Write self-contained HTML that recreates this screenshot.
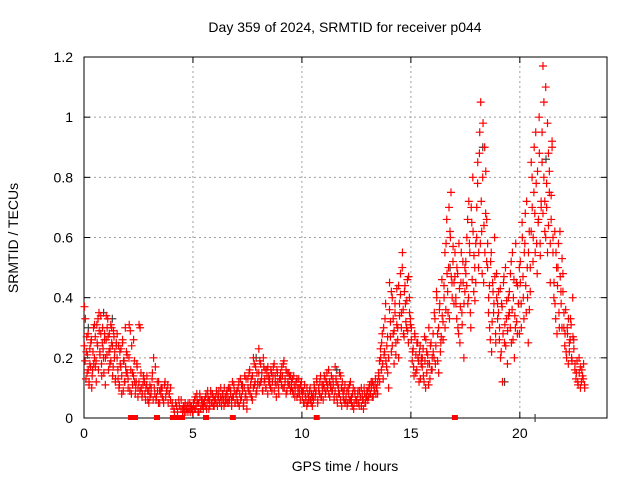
<!DOCTYPE html>
<html><head><meta charset="utf-8"><style>
html,body{margin:0;padding:0;background:#fff;}
svg text{font-family:"Liberation Sans",sans-serif;font-size:14px;fill:#000;}
</style></head><body>
<svg id="chart" width="640" height="480" xmlns="http://www.w3.org/2000/svg">
<text x="345" y="32" text-anchor="middle">Day 359 of 2024, SRMTID for receiver p044</text>
<text transform="translate(18,238) rotate(-90)" text-anchor="middle">SRMTID / TECUs</text>
<text x="345" y="471" text-anchor="middle">GPS time / hours</text>
<g id="grid"></g>
<g id="axes"></g>
<g id="marks"></g>
</svg>
<script>
const xTicks=[0,5,10,15,20];
const yTicks=[0,0.2,0.4,0.6,0.8,1,1.2];
const yTickLabels=["0","0.2","0.4","0.6","0.8","1","1.2"];
const segmentStarts=[0,0.5,1,1.5,2,2.5,3,3.5,4,4.5,5,5.5,6,6.5,7,7.5,8,8.5,9,9.5,10,10.5,11,11.5,12,12.5,13,13.5,14,14.5,15,15.5,16,16.5,17,17.5,18,18.5,19,19.5,20,20.5,21,21.5,22,22.5];
const segmentValues=[
[.37,.33,.22,.15,.28,.12,.18,.25,.10,.16,.30,.20],
[.17,.12,.25,.33,.35,.22,.28,.14,.30,.20,.26,.11],
[.34,.30,.27,.22,.18,.31,.25,.14,.29,.20,.12,.24],
[.28,.13,.10,.22,.17,.08,.25,.19,.12,.30,.15,.21],
[.10,.31,.29,.08,.15,.26,.12,.10,.18,.07],
[.31,.30,.10,.08,.14,.12,.06,.11,.09,.05],
[.07,.10,.15,.20,.08,.06,.12,.05,.09],
[.10,.07,.05,.12,.09,.11,.08,.06],
[.05,.02,.04,.06,.03],
[.02,.03,.04,.02,.03,.05,.03,.02,.04,.03],
[.04,.06,.03,.08,.05,.02,.07,.04,.06,.03],
[.05,.07,.03,.09,.06,.04,.08,.05,.07,.04],
[.06,.09,.04,.07,.05,.10,.06,.08,.04,.07],
[.08,.05,.10,.06,.09,.04,.07,.11,.05,.08],
[.06,.10,.04,.13,.07,.11,.05,.14,.08,.03],
[.10,.15,.08,.13,.06,.20,.11,.17,.09,.12],
[.23,.19,.12,.15,.09,.17,.13,.10,.16,.08,.14],
[.11,.16,.09,.14,.18,.12,.07,.15,.10,.13],
[.13,.17,.10,.19,.12,.08,.15,.11,.14,.09],
[.12,.09,.14,.07,.11,.13,.08,.10,.06,.12],
[.09,.05,.11,.07,.04,.08,.06,.10,.05,.07],
[.06,.10,.08,.13,.05,.09,.12,.07,.11,.06],
[.14,.08,.12,.10,.16,.07,.11,.09,.13,.06],
[.17,.12,.05,.10,.08,.14,.04,.09,.06,.11],
[.07,.04,.10,.06,.12,.05,.08,.03,.09,.06],
[.05,.09,.04,.07,.10,.06,.03,.08,.05,.07],
[.06,.10,.08,.12,.07,.11,.09,.13,.10,.08],
[.15,.12,.20,.25,.18,.30,.22,.38,.17,.27,.10],
[.45,.32,.22,.40,.28,.18,.35,.25,.43,.30,.20,.38],
[.48,.35,.55,.28,.42,.38,.30,.46,.25,.40,.33],
[.30,.22,.17,.28,.15,.25,.20,.12,.24,.18],
[.20,.14,.27,.10,.22,.18,.30,.13,.25,.16],
[.22,.35,.18,.42,.28,.15,.38,.25,.46,.32],
[.40,.30,.58,.48,.35,.70,.62,.75,.45,.52,.38],
[.55,.38,.50,.30,.58,.25,.45,.35,.52,.20,.42],
[.48,.60,.38,.72,.55,.30,.65,.80,.42,.50,.58],
[.70,.85,.55,.95,1.05,.62,.80,.45,.90,.68,.52],
[.58,.40,.30,.52,.22,.45,.35,.60,.28,.48,.38],
[.42,.30,.20,.38,.12,.45,.25,.50,.33,.18,.40],
[.35,.48,.25,.55,.40,.20,.30,.45,.28,.38,.50],
[.45,.30,.60,.40,.55,.68,.35,.50,.25,.62,.42],
[.85,.70,.60,.90,.55,.78,.48,.65,1.00,.58,.72],
[.95,1.17,.80,.62,1.10,.70,.55,.88,.75,.45,.66,.92],
[.60,.45,.38,.55,.28,.50,.35,.62,.42,.30,.48],
[.35,.28,.22,.30,.18,.25,.33,.20,.40,.26],
[.18,.15,.12,.20,.10,.16,.13,.11]
];
const segmentValues2=[
[.24,.19,.13,.27,.21,.16,.11,.23,.17,.26,.14,.22,.18,.31],
[.27,.19,.31,.24,.16,.29,.21,.34,.18,.25,.23,.15,.28,.20],
[.26,.21,.33,.16,.28,.23,.19,.30,.24,.17,.27,.22,.13,.25],
[.20,.16,.24,.11,.18,.23,.14,.26,.09,.19,.12,.17,.22,.15],
[.13,.20,.09,.16,.24,.11,.14,.19,.08,.12,.17,.10],
[.12,.09,.15,.07,.11,.13,.08,.10,.14,.06,.09],
[.11,.08,.13,.06,.10,.17,.07,.09,.12,.05],
[.08,.10,.06,.11,.07,.09,.05,.08,.10],
[.04,.03,.05,.02,.04,.06],
[.03,.04,.02,.05,.03,.04,.02,.03,.05,.04,.03,.02],
[.05,.03,.07,.04,.06,.02,.05,.08,.03,.06,.04,.05],
[.06,.04,.08,.05,.07,.03,.06,.09,.05,.08,.04,.06],
[.07,.05,.08,.06,.09,.05,.07,.04,.08,.06,.10,.05],
[.06,.09,.07,.05,.10,.08,.06,.12,.07,.09,.05,.08],
[.09,.05,.12,.08,.06,.11,.09,.04,.10,.07,.13,.06],
[.13,.09,.16,.11,.07,.14,.10,.18,.12,.08,.15,.11],
[.15,.11,.18,.13,.09,.20,.12,.16,.10,.14,.17,.12],
[.13,.10,.15,.12,.17,.09,.14,.11,.16,.12,.08,.13],
[.15,.11,.14,.18,.10,.13,.16,.09,.12,.15,.11,.14],
[.10,.13,.08,.11,.09,.12,.07,.10,.13,.08,.11,.09],
[.07,.09,.05,.08,.06,.10,.05,.07,.09,.06,.08,.04],
[.08,.11,.07,.09,.12,.06,.10,.08,.14,.07,.09,.11],
[.10,.13,.09,.15,.11,.08,.12,.10,.14,.09,.11,.07],
[.09,.13,.07,.11,.08,.15,.06,.10,.12,.07,.09,.05],
[.06,.09,.05,.08,.11,.06,.07,.04,.10,.05,.08,.06],
[.06,.08,.05,.09,.07,.04,.08,.06,.10,.05,.07,.09],
[.09,.07,.11,.08,.10,.12,.07,.09,.11,.08,.10,.12],
[.14,.19,.23,.16,.28,.13,.21,.33,.19,.24,.15,.20],
[.36,.27,.42,.24,.33,.29,.38,.21,.31,.26,.44,.34],
[.41,.30,.50,.36,.27,.44,.32,.39,.29,.47,.35,.31],
[.26,.19,.23,.14,.27,.21,.16,.25,.19,.22,.13,.20],
[.17,.23,.12,.19,.26,.15,.21,.11,.18,.24,.16,.20],
[.28,.20,.33,.24,.40,.19,.30,.36,.22,.27,.34,.26],
[.44,.55,.36,.66,.42,.50,.33,.60,.47,.40,.57,.45],
[.47,.40,.33,.48,.28,.43,.37,.55,.31,.45,.38,.50],
[.52,.44,.66,.40,.58,.35,.70,.46,.62,.54,.39,.45],
[.60,.78,.50,.88,.58,.72,.48,.98,.64,.55,.82,.66],
[.50,.35,.44,.26,.55,.32,.42,.38,.47,.25,.40,.33],
[.35,.26,.43,.22,.37,.28,.47,.31,.24,.39,.29,.34],
[.42,.30,.52,.36,.26,.46,.34,.58,.32,.44,.38,.28],
[.52,.38,.65,.47,.33,.58,.44,.72,.40,.55,.36,.50],
[.62,.80,.52,.75,.68,.95,.58,.82,.66,.88,.54,.70],
[.85,.68,1.05,.72,.60,.78,.98,.64,.82,.58,.74,.90],
[.55,.40,.62,.33,.50,.44,.58,.30,.47,.38,.53,.42],
[.30,.24,.36,.20,.28,.33,.22,.26,.31,.19,.27,.23],
[.16,.13,.19,.11,.15,.17,.12,.14,.18,.10]
];
const zeroHours=[2.16,2.34,3.35,4.08,4.31,4.5,5.6,6.83,10.68,17.02];
const darkHours=[0.2,0.9,1.3,7.9,11.6,16.8,18.3,19.3,20.7,21.2];
const darkValues=[0.3,0.35,0.33,0.2,0.16,0.5,0.9,0.12,0.0,0.86];

const X0=84,X1=607,Y0=418,Y1=57,XMAX=24,YMAX=1.2;
const xs=h=>X0+(X1-X0)*h/XMAX;
const ys=v=>Y0-(Y0-Y1)*v/YMAX;
const NS="http://www.w3.org/2000/svg";
function mk(tag,attrs,parent){const e=document.createElementNS(NS,tag);for(const k in attrs)e.setAttribute(k,attrs[k]);parent.appendChild(e);return e;}
const grid=document.getElementById('grid'),axes=document.getElementById('axes'),marks=document.getElementById('marks');
xTicks.forEach(t=>{const x=xs(t);
 if(t>0){const g=mk('line',{x1:x,x2:x,y1:Y0,y2:Y1,stroke:'#a0a0a0','stroke-dasharray':'2,3'},grid);
 }
 mk('line',{x1:x,x2:x,y1:Y0,y2:Y0-6,stroke:'#000'},axes);
 mk('line',{x1:x,x2:x,y1:Y1,y2:Y1+6,stroke:'#000'},axes);
 const l=mk('text',{x:x,y:Y0+20,'text-anchor':'middle'},axes);l.textContent=String(t);
 
});
yTicks.forEach((t,i)=>{const y=ys(t);
 if(t>0&&t<YMAX){const g=mk('line',{x1:X0,x2:X1,y1:y,y2:y,stroke:'#a0a0a0','stroke-dasharray':'2,3'},grid);
 }
 mk('line',{x1:X0,x2:X0+6,y1:y,y2:y,stroke:'#000'},axes);
 mk('line',{x1:X1,x2:X1-6,y1:y,y2:y,stroke:'#000'},axes);
 const l=mk('text',{x:X0-11,y:y+5,'text-anchor':'end'},axes);l.textContent=yTickLabels[i];
 
});
const box=mk('rect',{x:X0,y:Y1,width:X1-X0,height:Y0-Y1,fill:'none',stroke:'#000'},axes);

function plus(x,y,col){return mk('path',{d:`M${x-4},${y}h8M${x},${y-4}v8`,stroke:col,'stroke-width':1.2,fill:'none'},marks);}
darkHours.forEach((h,i)=>{const p=plus(xs(h),ys(darkValues[i]),'#404040');
 });
function drawSet(vs){segmentStarts.forEach((s,si)=>{const vals=vs[si];const n=vals.length;
 vals.forEach((v,i)=>{const h=s+(i+0.5)/n*0.5;const p=plus(xs(h),ys(v),'#ff0000');
 });});}
drawSet(segmentValues);
drawSet(segmentValues2);
zeroHours.forEach(h=>{const r=mk('rect',{x:xs(h)-3,y:Y0-3,width:6,height:5,fill:'#ff0000'},marks);
 });
</script>
</body></html>
